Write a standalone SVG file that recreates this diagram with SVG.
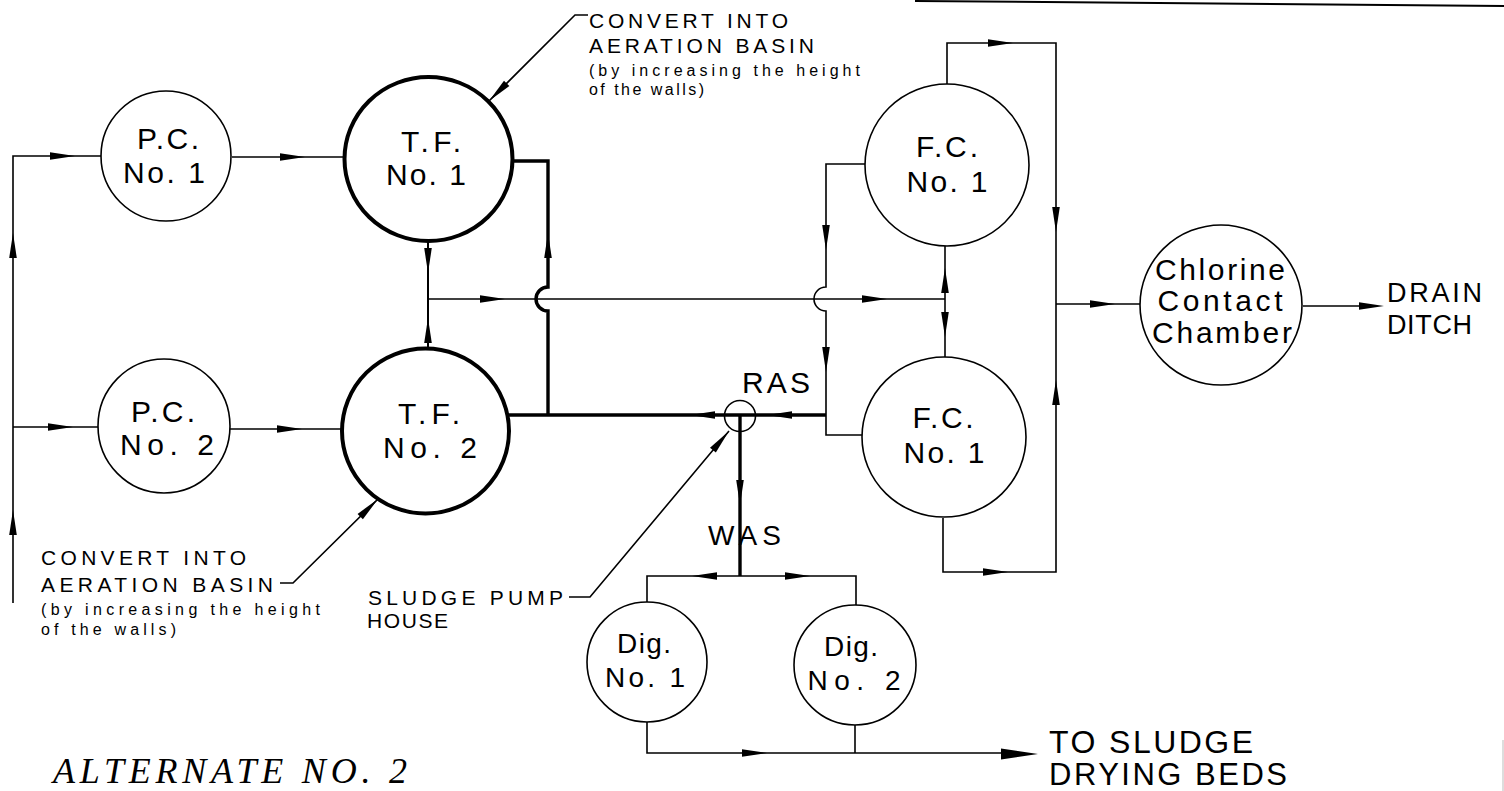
<svg xmlns="http://www.w3.org/2000/svg" xmlns:xlink="http://www.w3.org/1999/xlink" width="1504" height="791" viewBox="0 0 1504 791">
<style>
.bg{fill:#fff}
.node{fill:#fff;stroke:#000;stroke-width:1.6}
.heavy{fill:#fff;stroke:#000;stroke-width:4}
.thin{fill:none;stroke:#000;stroke-width:1.6}
.mid{fill:none;stroke:#000;stroke-width:2}
.thick{fill:none;stroke:#000;stroke-width:3.4}
.lbl{font-family:"Liberation Sans",Arial,sans-serif;font-size:30px;fill:#000;text-anchor:middle}
.sm{font-size:28px}
.note{font-family:"Liberation Sans",Arial,sans-serif;font-size:21px;fill:#000}
.tiny{font-family:"Liberation Sans",Arial,sans-serif;font-size:16px;fill:#000}
.tag{font-family:"Liberation Sans",Arial,sans-serif;font-size:30px;fill:#000}
.title{font-family:"Liberation Serif","Times New Roman",serif;font-style:italic;font-size:36px;fill:#000}
</style>
<defs>
<path id="ah" d="M0,0 L-25,-3.8 L-25,3.8 Z" fill="#000"/>
<path id="ahL" d="M0,0 L-37,-5.5 L-37,5.5 Z" fill="#000"/>
</defs>
<rect class="bg" x="0" y="0" width="1504" height="791"/>
<g id="page-edge">
<line x1="915" y1="1" x2="1504" y2="6" stroke="#000" stroke-width="2"/>
<line x1="1503" y1="740" x2="1503" y2="791" stroke="#bbb" stroke-width="1"/>
</g>

<g id="connectors">
<!-- inlet -->
<path class="thin" d="M13,603 L13,156 L102,156"/>
<path class="thin" d="M13,427 L98,427"/>
<use href="#ah" transform="translate(13,233) rotate(-90)"/>
<use href="#ah" transform="translate(13,510) rotate(-90)"/>
<use href="#ah" transform="translate(75,156)"/>
<use href="#ah" transform="translate(73,427)"/>
<!-- PC to TF -->
<path class="thin" d="M232,157 L345,157"/>
<use href="#ah" transform="translate(305,157)"/>
<path class="thin" d="M230,429 L342,429"/>
<use href="#ah" transform="translate(302,429)"/>
<!-- TF1 outlet to RAS line -->
<path class="thick" d="M512,161 L548,161 L548,287 A12,12 0 0 0 548,311 L548,415"/>
<use href="#ah" transform="translate(548,233) rotate(-90)"/>
<!-- TF junction -->
<path class="mid" d="M428,241 L428,348"/>
<use href="#ah" transform="translate(428,273) rotate(90)"/>
<use href="#ah" transform="translate(428,318) rotate(-90)"/>
<!-- middle line to FC -->
<path class="thin" d="M428,299 L945,299"/>
<use href="#ah" transform="translate(505,299)"/>
<use href="#ah" transform="translate(887,299)"/>
<!-- FC1 to RAS and FC2 -->
<path class="thin" d="M865,164 L826,164 L826,287 A12,12 0 0 0 826,311 L826,435 L862,435"/>
<use href="#ah" transform="translate(826,250) rotate(90)"/>
<use href="#ah" transform="translate(826,372) rotate(90)"/>
<!-- FC junction -->
<path class="thin" d="M945,246 L945,357"/>
<use href="#ah" transform="translate(945,268) rotate(-90)"/>
<use href="#ah" transform="translate(945,337) rotate(90)"/>
<!-- RAS line -->
<path class="thick" d="M508,415 L826,415"/>
<use href="#ah" transform="translate(690,415) rotate(180)"/>
<use href="#ah" transform="translate(767,415) rotate(180)"/>
<!-- WAS -->
<path class="thick" d="M740,416 L740,576"/>
<use href="#ah" transform="translate(740,505) rotate(90)"/>
<path class="thin" d="M647,603 L647,576 L856,576 L856,605"/>
<use href="#ah" transform="translate(692,576) rotate(180)"/>
<use href="#ah" transform="translate(810,576)"/>
<!-- digesters to drying beds -->
<path class="thin" d="M647,722 L647,753 L1005,753"/>
<path class="thin" d="M855,725 L855,753"/>
<use href="#ah" transform="translate(767,753)"/>
<use href="#ahL" transform="translate(1038,754)"/>
<!-- FC effluent -->
<path class="thin" d="M947,84 L947,43 L1056,43 L1056,572 L943,572 L943,518"/>
<use href="#ah" transform="translate(1013,43)"/>
<use href="#ah" transform="translate(1056,232) rotate(90)"/>
<use href="#ah" transform="translate(1008,572)"/>
<use href="#ah" transform="translate(1056,380) rotate(-90)"/>
<!-- chlorine -->
<path class="thin" d="M1056,304 L1140,304"/>
<use href="#ah" transform="translate(1115,304)"/>
<path class="thin" d="M1303,306 L1365,306"/>
<use href="#ah" transform="translate(1384,306)"/>
<!-- leaders -->
<path class="thin" d="M489,101 L575,15 L588,15"/>
<use href="#ah" transform="translate(489,101) rotate(135)"/>
<path class="thin" d="M280,583 L293,583 L378,499"/>
<use href="#ah" transform="translate(378,499) rotate(-44.7)"/>
<path class="thin" d="M569,597 L590,597 L729,431"/>
<use href="#ah" transform="translate(729,431) rotate(-50)"/>
</g>

<g id="pc1">
<ellipse class="node" cx="166" cy="156" rx="65" ry="65"/>
<text class="lbl" x="168" y="149" textLength="62" lengthAdjust="spacing">P.C.</text>
<text class="lbl" x="164" y="183" textLength="82" lengthAdjust="spacing">No. 1</text>
</g>
<g id="pc2">
<ellipse class="node" cx="164" cy="426" rx="66" ry="67"/>
<text class="lbl" x="163" y="422" textLength="64" lengthAdjust="spacing">P.C.</text>
<text class="lbl" x="167" y="455" textLength="94" lengthAdjust="spacing">No. 2</text>
</g>
<g id="tf1">
<ellipse class="heavy" cx="428.5" cy="159" rx="84" ry="82"/>
<text class="lbl" x="431" y="152" textLength="60" lengthAdjust="spacing">T.F.</text>
<text class="lbl" x="426" y="185" textLength="80" lengthAdjust="spacing">No. 1</text>
</g>
<g id="tf2">
<ellipse class="heavy" cx="425.5" cy="431" rx="83.5" ry="82.5"/>
<text class="lbl" x="429" y="424" textLength="62" lengthAdjust="spacing">T.F.</text>
<text class="lbl" x="430" y="458" textLength="94" lengthAdjust="spacing">No. 2</text>
</g>
<g id="fc1">
<ellipse class="node" cx="947" cy="165" rx="82" ry="81"/>
<text class="lbl" x="947" y="157" textLength="62" lengthAdjust="spacing">F.C.</text>
<text class="lbl" x="947" y="192" textLength="81" lengthAdjust="spacing">No. 1</text>
</g>
<g id="fc2">
<ellipse class="node" cx="944" cy="437" rx="82" ry="80"/>
<text class="lbl" x="943" y="428" textLength="61" lengthAdjust="spacing">F.C.</text>
<text class="lbl" x="944" y="463" textLength="81" lengthAdjust="spacing">No. 1</text>
</g>
<g id="chlorine">
<ellipse class="node" cx="1221" cy="305" rx="81" ry="80"/>
<text class="lbl" x="1220" y="280" textLength="130" lengthAdjust="spacing">Chlorine</text>
<text class="lbl" x="1220" y="311" textLength="125" lengthAdjust="spacing">Contact</text>
<text class="lbl" x="1222" y="343" textLength="140" lengthAdjust="spacing">Chamber</text>
</g>
<g id="pump">
<circle class="node" cx="740" cy="416" r="15.5" fill="none" style="fill:none"/>
</g>
<g id="dig1">
<ellipse class="node" cx="647" cy="662" rx="60" ry="60"/>
<text class="lbl sm" x="644" y="653" textLength="54" lengthAdjust="spacing">Dig.</text>
<text class="lbl sm" x="645" y="687" textLength="80" lengthAdjust="spacing">No. 1</text>
</g>
<g id="dig2">
<ellipse class="node" cx="855" cy="665" rx="61" ry="60"/>
<text class="lbl sm" x="851" y="656" textLength="54" lengthAdjust="spacing">Dig.</text>
<text class="lbl sm" x="854" y="690" textLength="93" lengthAdjust="spacing">No. 2</text>
</g>

<g id="labels">
<text class="tag" x="742" y="393" textLength="68" lengthAdjust="spacing">RAS</text>
<text class="tag" x="708" y="545" textLength="73" lengthAdjust="spacing" style="font-size:28px">WAS</text>
<text class="tag" x="1387" y="302" textLength="95" lengthAdjust="spacing" style="font-size:27px">DRAIN</text>
<text class="tag" x="1387" y="334" textLength="85" lengthAdjust="spacing" style="font-size:27px">DITCH</text>
<text class="tag" x="1049" y="753" textLength="204" lengthAdjust="spacing" style="font-size:32px">TO SLUDGE</text>
<text class="tag" x="1049" y="785" textLength="238" lengthAdjust="spacing" style="font-size:31px">DRYING BEDS</text>
<text class="note" x="589" y="28" textLength="199" lengthAdjust="spacing">CONVERT INTO</text>
<text class="note" x="589" y="53" textLength="225" lengthAdjust="spacing">AERATION BASIN</text>
<text class="tiny" x="589" y="76" textLength="271" lengthAdjust="spacing">(by increasing the height</text>
<text class="tiny" x="589" y="95" textLength="115" lengthAdjust="spacing">of the walls)</text>
<text class="note" x="41" y="565" textLength="205" lengthAdjust="spacing">CONVERT INTO</text>
<text class="note" x="41" y="592" textLength="232" lengthAdjust="spacing">AERATION BASIN</text>
<text class="tiny" x="41" y="615" textLength="279" lengthAdjust="spacing">(by increasing the height</text>
<text class="tiny" x="41" y="635" textLength="135" lengthAdjust="spacing">of the walls)</text>
<text class="note" x="368" y="605" textLength="195" lengthAdjust="spacing">SLUDGE PUMP</text>
<text class="note" x="367" y="628" textLength="81" lengthAdjust="spacing">HOUSE</text>
<text class="title" x="53" y="783" textLength="354" lengthAdjust="spacing">ALTERNATE NO. 2</text>
</g>
</svg>
